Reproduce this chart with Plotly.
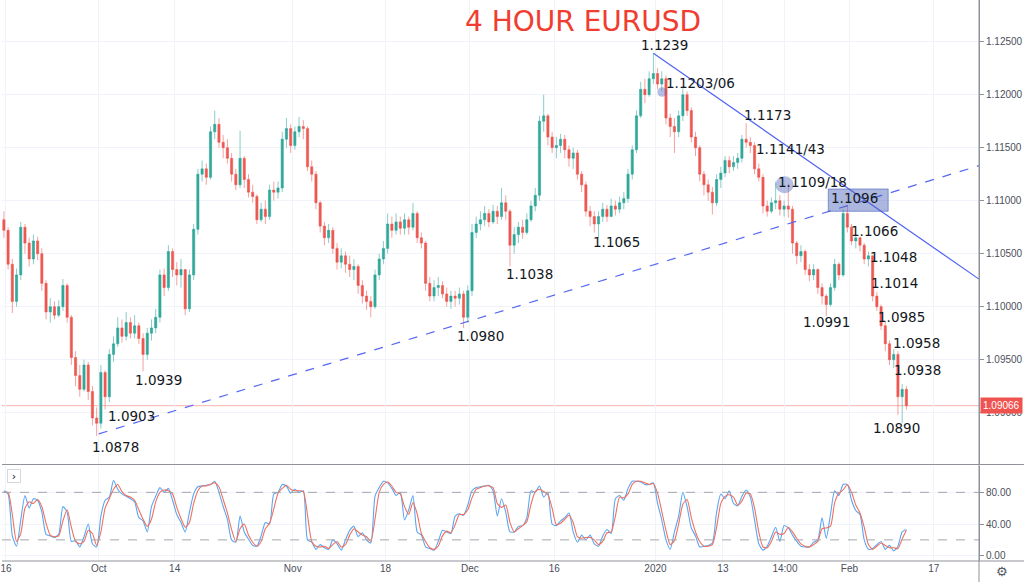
import pandas as pd
import plotly.graph_objects as go

# ---------------- data (12-hour bars) ----------------
first_open = 1.1082
closes = [
    1.1072, 1.1040, 1.1005, 1.1030, 1.1075, 1.1060, 1.1045, 1.1062, 1.1050, 1.1022,
    1.0995, 1.1000, 1.0992, 1.1000, 1.1020, 1.0990, 1.0952, 1.0935, 1.0922, 1.0945,
    1.0920, 1.0895, 1.0890, 1.0938, 1.0915, 1.0955, 1.0965, 1.0980, 1.0972, 1.0985,
    1.0975, 1.0982, 1.0970, 1.0955, 1.0975, 1.0980, 1.0990, 1.1030, 1.1018, 1.1052,
    1.1035, 1.1030, 1.1035, 1.0998, 1.1030, 1.1073, 1.1125, 1.1130, 1.1122, 1.1165,
    1.1172, 1.1155, 1.1150, 1.1140, 1.1125, 1.1115, 1.1140, 1.1120, 1.1108, 1.1104,
    1.1082, 1.1092, 1.1085, 1.1110, 1.1108, 1.1112, 1.1158, 1.1168, 1.1152, 1.1165,
    1.1170, 1.1168, 1.1132, 1.1125, 1.1098, 1.1076, 1.1065, 1.1072, 1.1055, 1.1042,
    1.1048, 1.1040, 1.1035, 1.1038, 1.1020, 1.1010, 1.1005, 1.1000, 1.1030, 1.1045,
    1.1055, 1.1078, 1.1072, 1.1080, 1.1074, 1.1082, 1.1075, 1.1088, 1.1065, 1.1060,
    1.1022, 1.1010, 1.1018, 1.1020, 1.1012, 1.1005, 1.1010, 1.1008, 1.1012, 1.0990,
    1.1015, 1.1070, 1.1078, 1.1082, 1.1088, 1.1080, 1.1090, 1.1085, 1.1098, 1.1090,
    1.1058, 1.1068, 1.1075, 1.1070, 1.1082, 1.1095, 1.1105, 1.1175, 1.1180, 1.1160,
    1.1150, 1.1152, 1.1158, 1.1148, 1.1140, 1.1145, 1.1125, 1.1115, 1.1090, 1.1085,
    1.1078, 1.1085, 1.1092, 1.1085, 1.1095, 1.1092, 1.1098, 1.1102, 1.1125, 1.1148,
    1.1180, 1.1205, 1.1200, 1.1215, 1.1220, 1.1210, 1.1215, 1.1178, 1.1170, 1.1165,
    1.1180, 1.1200, 1.1185, 1.1160, 1.1150, 1.1125, 1.1115, 1.1108, 1.1098, 1.1120,
    1.1126, 1.1138, 1.1132, 1.1136, 1.1140, 1.1158, 1.1155, 1.1152, 1.1130, 1.1122,
    1.1095, 1.1090, 1.1098, 1.1100, 1.1092, 1.1095, 1.1092, 1.1060, 1.1048, 1.1052,
    1.1035, 1.1030, 1.1035, 1.1018, 1.1010, 1.1002, 1.1018, 1.1040, 1.1030, 1.1088,
    1.1075, 1.1062, 1.1065, 1.1058, 1.1045, 1.1048, 1.1010, 1.1000, 1.0982, 1.0965,
    1.0950, 1.0955, 1.0915, 1.0922, 1.09066,
]
highs = [
    1.1090, 1.1075, 1.1045, 1.1036, 1.1080, 1.1078, 1.1065, 1.1068, 1.1066, 1.1055,
    1.1025, 1.1008, 1.1005, 1.1006, 1.1026, 1.1022, 1.0992, 1.0958, 1.0945, 1.0950,
    1.0948, 1.0925, 1.0905, 1.0945, 1.0940, 1.0960, 1.0972, 1.0990, 1.0988, 1.0995,
    1.0990, 1.0992, 1.0985, 1.0975, 1.0980, 1.0988, 1.0998, 1.1035, 1.1036, 1.1058,
    1.1055, 1.1042, 1.1045, 1.1035, 1.1035, 1.1078, 1.1130, 1.1138, 1.1135, 1.1170,
    1.1185, 1.1178, 1.1162, 1.1158, 1.1145, 1.1130, 1.1166, 1.1142, 1.1125, 1.1115,
    1.1106, 1.1098, 1.1100, 1.1115, 1.1118, 1.1118, 1.1165, 1.1178, 1.1172, 1.1170,
    1.1179, 1.1176, 1.1170, 1.1138, 1.1128, 1.1100, 1.1080, 1.1078, 1.1075, 1.1060,
    1.1055, 1.1052, 1.1048, 1.1045, 1.1040, 1.1025, 1.1015, 1.1010, 1.1035, 1.1050,
    1.1062, 1.1088, 1.1085, 1.1088, 1.1085, 1.1088, 1.1085, 1.1098, 1.1090, 1.1070,
    1.1062, 1.1028, 1.1025, 1.1028, 1.1024, 1.1018, 1.1015, 1.1015, 1.1018, 1.1015,
    1.1020, 1.1078, 1.1085, 1.1090, 1.1095, 1.1092, 1.1096, 1.1095, 1.1112, 1.1105,
    1.1092, 1.1075, 1.1080, 1.1082, 1.1088, 1.1100, 1.1112, 1.1180, 1.1200, 1.1182,
    1.1165, 1.1160, 1.1163, 1.1162, 1.1152, 1.1150, 1.1148, 1.1128, 1.1118, 1.1095,
    1.1090, 1.1090, 1.1098, 1.1096, 1.1102, 1.1100, 1.1104, 1.1108, 1.1130, 1.1152,
    1.1185, 1.1212, 1.1215, 1.1222, 1.1239, 1.1225, 1.1222, 1.1218, 1.1182, 1.1178,
    1.1185, 1.1206, 1.1203, 1.1188, 1.1165, 1.1152, 1.1128, 1.1120, 1.1113, 1.1125,
    1.1132, 1.1142, 1.1142, 1.1142, 1.1145, 1.1162, 1.1173, 1.1160, 1.1155, 1.1135,
    1.1125, 1.1100, 1.1103, 1.1118, 1.1105, 1.1100, 1.1116, 1.1095, 1.1062, 1.1058,
    1.1054, 1.1040, 1.1040, 1.1036, 1.1022, 1.1012, 1.1022, 1.1045, 1.1042, 1.1092,
    1.1096, 1.1078, 1.1068, 1.1066, 1.1060, 1.1052, 1.1048, 1.1014, 1.1002, 1.0986,
    1.0968, 1.0960, 1.0958, 1.0927, 1.0925,
]
lows = [
    1.1065, 1.1035, 1.0994, 1.1000, 1.1025, 1.1050, 1.1038, 1.1040, 1.1044, 1.1015,
    1.0988, 1.0985, 1.0988, 1.0990, 1.0996, 1.0985, 1.0945, 1.0925, 1.0915, 1.0920,
    1.0912, 1.0888, 1.0878, 1.0885, 1.0903, 1.0910, 1.0948, 1.0962, 1.0966, 1.0968,
    1.0970, 1.0970, 1.0965, 1.0939, 1.0950, 1.0968, 1.0975, 1.0985, 1.1010, 1.1015,
    1.1028, 1.1020, 1.1018, 1.0992, 1.0995, 1.1025, 1.1068, 1.1118, 1.1115, 1.1120,
    1.1158, 1.1150, 1.1140, 1.1135, 1.1118, 1.1110, 1.1112, 1.1112, 1.1103, 1.1098,
    1.1078, 1.1080, 1.1078, 1.1082, 1.1100, 1.1102, 1.1108, 1.1150, 1.1145, 1.1148,
    1.1160, 1.1158, 1.1128, 1.1118, 1.1092, 1.1070, 1.1058, 1.1060, 1.1050, 1.1035,
    1.1036, 1.1032, 1.1028, 1.1025, 1.1012, 1.1003, 1.0997, 1.0990, 1.0998, 1.1025,
    1.1040, 1.1050, 1.1065, 1.1068, 1.1068, 1.1068, 1.1068, 1.1072, 1.1060, 1.1055,
    1.1015, 1.1005, 1.1005, 1.1010, 1.1008, 1.1000, 1.0998, 1.1000, 1.1002, 1.0980,
    1.0985, 1.1010, 1.1065, 1.1072, 1.1076, 1.1075, 1.1078, 1.1078, 1.1082, 1.1082,
    1.1038, 1.1050, 1.1060, 1.1064, 1.1068, 1.1080, 1.1090, 1.1100, 1.1165, 1.1152,
    1.1145, 1.1140, 1.1145, 1.1140, 1.1132, 1.1130, 1.1120, 1.1108, 1.1085, 1.1076,
    1.1070, 1.1065, 1.1080, 1.1080, 1.1085, 1.1086, 1.1088, 1.1092, 1.1098, 1.1120,
    1.1145, 1.1178, 1.1192, 1.1198, 1.1210, 1.1205, 1.1203, 1.1172, 1.1160, 1.1145,
    1.1160, 1.1175, 1.1180, 1.1155, 1.1142, 1.1118, 1.1105, 1.1100, 1.1087, 1.1095,
    1.1112, 1.1122, 1.1126, 1.1128, 1.1130, 1.1136, 1.1150, 1.1145, 1.1125, 1.1118,
    1.1088, 1.1085, 1.1088, 1.1092, 1.1086, 1.1085, 1.1084, 1.1050, 1.1040, 1.1042,
    1.1030, 1.1024, 1.1025, 1.1012, 1.1002, 1.0991, 1.1000, 1.1015, 1.1025, 1.1028,
    1.1070, 1.1058, 1.1055, 1.1052, 1.1040, 1.1038, 1.1005, 1.0996, 1.0978, 1.0958,
    1.0945, 1.0942, 1.0898, 1.0890, 1.0903,
]
stoch_k = [
    82, 78, 25, 12, 45, 76, 60, 72, 70, 55,
    27, 25, 23, 27, 62, 55, 18, 19, 11, 24,
    40, 15, 11, 50, 70, 74, 95, 84, 78, 75,
    72, 68, 48, 44, 30, 62, 75, 86, 80, 85,
    70, 52, 42, 30, 55, 78, 87, 88, 89, 90,
    94, 80, 62, 46, 20, 17, 50, 30, 21, 13,
    12, 25, 42, 40, 78, 80, 90, 88, 79, 84,
    80, 82, 20, 17, 8, 14, 10, 8, 20, 15,
    7, 20, 32, 37, 24, 29, 20, 16, 75, 86,
    94, 92, 85, 76, 80, 45, 58, 76, 30, 26,
    11, 9, 7, 18, 32, 30, 28, 50, 53, 51,
    64, 82, 86, 87, 88, 89, 82, 50, 72, 55,
    30, 30, 37, 38, 48, 82, 80, 88, 74, 80,
    40, 38, 44, 48, 54, 30, 17, 26, 20, 26,
    15, 12, 25, 33, 28, 72, 76, 70, 85, 94,
    94, 93, 90, 90, 92, 66, 45, 20, 8, 30,
    50, 80, 62, 35, 25, 11, 12, 13, 16, 55,
    78, 72, 82, 66, 63, 75, 83, 74, 45, 15,
    7, 12, 24, 36, 18, 38, 35, 26, 18, 12,
    11, 11, 17, 20, 48, 22, 52, 82, 76, 90,
    90, 70, 57, 52, 20, 8, 9, 14, 18, 8,
    13, 6, 12, 30, 33,
]
stoch_d = [
    80, 80, 52, 18, 28, 60, 68, 66, 71, 62,
    41, 26, 24, 25, 44, 58, 36, 18, 15, 18,
    32, 28, 13, 30, 60, 72, 84, 90, 81, 76,
    74, 70, 58, 46, 37, 46, 68, 80, 83, 82,
    78, 61, 47, 36, 42, 66, 82, 88, 88, 90,
    92, 87, 71, 54, 33, 18, 34, 40, 26, 17,
    12, 18, 34, 41, 59, 79, 85, 89, 84, 82,
    82, 81, 51, 18, 12, 11, 12, 9, 14, 18,
    11, 14, 26, 34, 30, 26, 24, 18, 46, 80,
    90, 93, 88, 80, 78, 62, 52, 67, 53, 28,
    18, 10, 8, 12, 25, 31, 29, 39, 52, 52,
    58, 73, 84, 86, 88, 88, 86, 66, 61, 64,
    42, 30, 34, 38, 43, 65, 81, 84, 81, 77,
    60, 39, 41, 46, 51, 42, 24, 22, 23, 23,
    20, 14, 18, 29, 30, 50, 74, 73, 78, 90,
    94, 94, 92, 90, 91, 79, 56, 32, 14, 19,
    40, 65, 71, 48, 30, 18, 12, 12, 14, 36,
    66, 75, 77, 74, 64, 69, 79, 78, 60, 30,
    11, 10, 18, 30, 27, 28, 36, 30, 22, 15,
    12, 11, 14, 18, 34, 35, 37, 67, 79, 83,
    90, 80, 64, 54, 36, 14, 8, 12, 16, 13,
    10, 10, 9, 21, 32,
]

tick_dates = ["2019-09-16", "2019-10-01", "2019-10-14", "2019-11-01", "2019-11-18",
              "2019-12-02", "2019-12-16", "2020-01-01", "2020-01-13", "2020-01-22 08:30",
              "2020-02-03", "2020-02-17"]
tick_labels = ["16", "Oct", "14", "Nov", "18", "Dec", "16", "2020", "13", "14:00", "Feb", "17"]
price_ticks = [1.090, 1.095, 1.100, 1.105, 1.110, 1.115, 1.120, 1.125]
stoch_ticks = [0, 40, 80]
stoch_bands = [80, 20]

level_labels = ["1.0878", "1.0903", "1.0939", "1.0980", "1.1038", "1.1065", "1.1239",
                "1.1203/06", "1.1173", "1.1141/43", "1.1109/18", "1.1096", "1.1066",
                "1.1048", "1.1014", "1.0991", "1.0985", "1.0958", "1.0938", "1.0890"]

# trend lines / highlight zones (date, price anchors)
down_line = (("2019-12-31 18:00", 1.1239), ("2020-02-24 08:38", 1.1026))
up_line = (("2019-10-01 00:00", 1.0880), ("2020-02-24 08:38", 1.1133))
zone_box = (("2020-01-29 11:45", 1.1090), ("2020-02-07 14:10", 1.1111))
zone_ovals = [(("2020-01-01 05:20", 1.1198), ("2020-01-02 07:40", 1.1207)),
              (("2020-01-21 05:20", 1.1107), ("2020-01-23 09:20", 1.1123))]

# ---------------- build ----------------
days = pd.bdate_range("2019-09-13", periods=120)
stamps = []
for d in days:
    stamps.append(d + pd.Timedelta(hours=6))
    stamps.append(d + pd.Timedelta(hours=18))
times = stamps[1:1 + len(closes)]
opens = [first_open] + closes[:-1]

W, H = 1024, 582
ML, MR, MT, MB = 0, 45, 0, 21
PW, PH = W - ML - MR, H - MT - MB


def px(xp, yp):
    return (xp - ML) / PW, (PH - (yp - MT)) / PH


main_dom = [(PH - 464) / PH, 1.0]
stoch_dom = [0.0, (PH - 465.5) / PH]

fig = go.Figure()
fig.add_trace(go.Candlestick(
    x=times, open=opens, high=highs, low=lows, close=closes,
    increasing=dict(fillcolor="#35a898", line=dict(color="rgba(38,166,154,0.55)", width=1)),
    decreasing=dict(fillcolor="#ec5a50", line=dict(color="rgba(239,83,80,0.55)", width=1)),
    whiskerwidth=0, xaxis="x", yaxis="y", showlegend=False, hoverinfo="skip",
))
fig.add_trace(go.Scatter(x=times, y=stoch_k, mode="lines", xaxis="x2", yaxis="y2",
                         line=dict(color="#5aa6f3", width=1.1, shape="spline", smoothing=0.6),
                         showlegend=False, hoverinfo="skip"))
fig.add_trace(go.Scatter(x=times, y=stoch_d, mode="lines", xaxis="x2", yaxis="y2",
                         line=dict(color="#f0705f", width=1.1, shape="spline", smoothing=0.6),
                         showlegend=False, hoverinfo="skip"))

breaks = [dict(bounds=["sat", "mon"])]
xrange_ = ["2019-09-13 12:39", "2020-02-24 08:38"]
axis_font = dict(family="Liberation Sans, Arial, sans-serif", size=10, color="#4b4f5a")
grid_c = "#f0f3fa"
line_c = "#8f9299"

shapes = []
shapes.append(dict(type="line", xref="x", yref="y", x0=down_line[0][0], y0=down_line[0][1],
                   x1=down_line[1][0], y1=down_line[1][1], line=dict(color="#4f62f2", width=1.2)))
shapes.append(dict(type="line", xref="x", yref="y", x0=up_line[0][0], y0=up_line[0][1],
                   x1=up_line[1][0], y1=up_line[1][1], line=dict(color="#5668f2", width=1.2, dash="dash")))
shapes.append(dict(type="rect", xref="x", yref="y", x0=zone_box[0][0], y0=zone_box[0][1],
                   x1=zone_box[1][0], y1=zone_box[1][1], fillcolor="rgba(70,95,185,0.45)",
                   line=dict(color="rgba(70,95,185,0.6)", width=1), layer="above"))
for a, b in zone_ovals:
    shapes.append(dict(type="circle", xref="x", yref="y", x0=a[0], y0=a[1], x1=b[0], y1=b[1],
                       fillcolor="rgba(70,95,185,0.4)", line=dict(width=0)))
# last price line
shapes.append(dict(type="line", xref="paper", yref="y", x0=0, x1=1, y0=closes[-1], y1=closes[-1],
                   line=dict(color="#f6b3b1", width=1), layer="below"))
# stoch bands
for v in stoch_bands:
    shapes.append(dict(type="line", xref="paper", yref="y2", x0=0, x1=1, y0=v, y1=v,
                       line=dict(color="#a3a6ad", width=1, dash="dash")))
# panel separators & axis frame
sep_y = (PH - 464.5) / PH
shapes.append(dict(type="line", xref="paper", yref="paper", x0=0, x1=W / PW, y0=sep_y, y1=sep_y,
                   line=dict(color=line_c, width=1)))
shapes.append(dict(type="line", xref="paper", yref="paper", x0=0, x1=W / PW, y0=0, y1=0,
                   line=dict(color=line_c, width=1)))
shapes.append(dict(type="line", xref="paper", yref="paper", x0=1, x1=1, y0=-MB / PH, y1=1,
                   line=dict(color=line_c, width=1)))

ann = []
tx, ty = px(582, 22)
ann.append(dict(text="4 HOUR EURUSD", x=tx, y=ty, xref="paper", yref="paper", showarrow=False,
                xanchor="center", yanchor="middle",
                font=dict(family="DejaVu Sans, sans-serif", size=28, color="#f03d2f")))
label_pos = [(113.5, 447), (129.5, 416), (156.5, 380), (479, 336), (528.5, 274), (616, 242),
             (663.5, 45), (699.5, 83), (767, 115), (790.5, 149), (812.5, 182), (854, 198),
             (874.5, 231), (893, 257), (894.5, 283), (826, 322), (901, 317), (916.5, 343),
             (917, 370), (896, 428)]
for txt, (lx, ly) in zip(level_labels, label_pos):
    ax_, ay_ = px(lx, ly)
    ann.append(dict(text=txt, x=ax_, y=ay_, xref="paper", yref="paper", showarrow=False,
                    xanchor="center", yanchor="middle",
                    font=dict(family="DejaVu Sans, sans-serif", size=13.5, color="#131722")))
# last price tag
ann.append(dict(text=f"{closes[-1]:.5f}", x=1, y=closes[-1], xref="paper", yref="y",
                showarrow=False, xanchor="left", yanchor="middle", xshift=1,
                bgcolor="#ef5350", borderpad=2,
                font=dict(family="Liberation Sans, Arial, sans-serif", size=10, color="#ffffff")))
# small collapse button in the indicator pane
bx, by = px(12.5, 476)
ann.append(dict(text="›", x=bx, y=by, xref="paper", yref="paper", showarrow=False,
                xanchor="center", yanchor="middle", width=10, height=10,
                bordercolor="#d5d8df", borderwidth=1, borderpad=1, bgcolor="#ffffff",
                font=dict(family="DejaVu Sans, sans-serif", size=11, color="#131722")))
gx, gy = px(1002, 571.5)
ann.append(dict(text="⚙", x=gx, y=gy, xref="paper", yref="paper", showarrow=False,
                xanchor="center", yanchor="middle",
                font=dict(family="DejaVu Sans, sans-serif", size=13, color="#50535e")))

fig.update_layout(
    width=W, height=H, margin=dict(l=ML, r=MR, t=MT, b=MB),
    paper_bgcolor="#ffffff", plot_bgcolor="#ffffff", showlegend=False,
    hovermode=False, boxgap=0.25,
    xaxis=dict(domain=[0, 1], anchor="y", matches="x2", range=xrange_, rangebreaks=breaks,
               showticklabels=False, tickvals=tick_dates, showgrid=True, gridcolor=grid_c,
               zeroline=False, showline=False, rangeslider=dict(visible=False), ticks=""),
    yaxis=dict(domain=main_dom, anchor="x", side="right", range=[1.08516, 1.12893],
               tickvals=price_ticks, tickformat=".5f", showgrid=True, gridcolor=grid_c,
               zeroline=False, showline=True, linecolor=line_c, ticks="outside", ticklen=4,
               tickcolor=line_c, tickfont=axis_font),
    xaxis2=dict(domain=[0, 1], anchor="y2", range=xrange_, rangebreaks=breaks,
                tickvals=tick_dates, ticktext=tick_labels, showgrid=True, gridcolor=grid_c,
                zeroline=False, showline=False, ticks="", tickfont=axis_font,
                ticklabeloverflow="allow"),
    yaxis2=dict(domain=stoch_dom, anchor="x2", side="right", range=[-6.7, 113.9],
                tickvals=stoch_ticks, tickformat=".2f", showgrid=True, gridcolor=grid_c,
                zeroline=False, showline=True, linecolor=line_c, ticks="outside", ticklen=4,
                tickcolor=line_c, tickfont=axis_font),
    shapes=shapes, annotations=ann,
)

fig.write_html("out.html", config={"displayModeBar": False},
               post_script="document.body.style.margin='0';document.body.style.overflow='hidden';")
